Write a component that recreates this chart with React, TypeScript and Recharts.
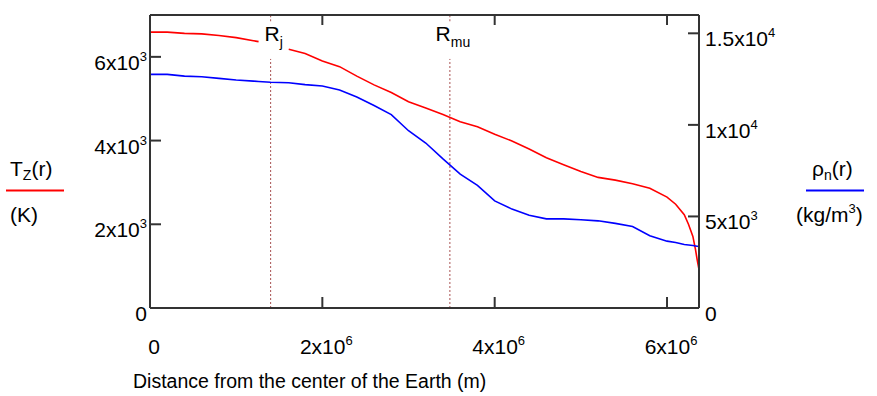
import React from "react";
import { LineChart, Line, XAxis, YAxis, ReferenceLine } from "recharts";

// ---- data ----
const radius = [0, 200000, 400000, 600000, 800000, 1000000, 1200000, 1260000, 1400000, 1610000, 1800000, 2000000, 2200000, 2400000, 2600000, 2800000, 3000000, 3200000, 3400000, 3600000, 3800000, 4000000, 4200000, 4400000, 4600000, 4800000, 5000000, 5200000, 5400000, 5600000, 5800000, 6000000, 6100000, 6200000, 6250000, 6300000, 6330000, 6350000, 6371000];
const temperature = [6590, 6590, 6560, 6550, 6510, 6460, 6385, 6364, null, 6181, 6080, 5900, 5766, 5540, 5330, 5150, 4930, 4780, 4620, 4450, 4330, 4150, 3990, 3800, 3590, 3425, 3260, 3120, 3055, 2970, 2860, 2650, 2480, 2230, 1995, 1709, 1400, 1150, 920];
const density = [12760, 12760, 12660, 12630, 12540, 12450, 12390, 12370, 12330, 12300, 12200, 12120, 11900, 11520, 11060, 10560, 9680, 9010, 8140, 7310, 6700, 5850, 5400, 5060, 4866, 4866, 4820, 4760, 4620, 4450, 3950, 3650, 3580, 3470, 3440, 3410, 3390, 3375, 3360];

const xTicks = [0, 2000000, 4000000, 6000000];
const xTickBase = ["0", "2x10", "4x10", "6x10"];
const xTickExp = ["", "6", "6", "6"];

const leftTicks = [0, 2000, 4000, 6000];
const leftTickBase = ["0", "2x10", "4x10", "6x10"];
const leftTickExp = ["", "3", "3", "3"];

const rightTicks = [0, 5000, 10000, 15000];
const rightTickBase = ["0", "5x10", "1x10", "1.5x10"];
const rightTickExp = ["", "3", "4", "4"];

const markerR = [1400000, 3480000];
const markerName = ["R", "R"];
const markerSub = ["j", "mu"];

const X_MAX = 6371000;
const T_MAX = 7000;
const RHO_MAX = 16000;
const MARK_LOW_TOP = 5950;
const MARK_HIGH_BOTTOM = 6850;

const FONT = "'Liberation Sans', Arial, Helvetica, sans-serif";
const FS = 21;
const SUP = 13;
const AXIS = "#333333";

function SupText(p: { x: number; y: number; anchor: string; base: string; exp: string }) {
  return (
    <text x={p.x} y={p.y} textAnchor={p.anchor as any} fontFamily={FONT} fontSize={FS} fill="#000">
      {p.base}
      {p.exp ? (
        <tspan dy={-9} fontSize={SUP}>
          {p.exp}
        </tspan>
      ) : null}
    </text>
  );
}

const BottomTick = (props: any) => {
  const { x, y, payload } = props;
  const i = xTicks.indexOf(payload.value);
  return (
    <g>
      <line x1={x} y1={y} x2={x} y2={y - 11} stroke={AXIS} strokeWidth={2} />
      <SupText x={x + 4} y={y + 46} anchor="middle" base={xTickBase[i]} exp={xTickExp[i]} />
    </g>
  );
};

const TopTick = (props: any) => {
  const { x, y } = props;
  return <line x1={x} y1={y} x2={x} y2={y + 10} stroke={AXIS} strokeWidth={2} />;
};

const LeftTick = (props: any) => {
  const { x, y, payload } = props;
  const i = leftTicks.indexOf(payload.value);
  return (
    <g>
      <line x1={x} y1={y} x2={x + 11} y2={y} stroke={AXIS} strokeWidth={2} />
      <SupText x={x - 3} y={y + 13} anchor="end" base={leftTickBase[i]} exp={leftTickExp[i]} />
    </g>
  );
};

const RightTick = (props: any) => {
  const { x, y, payload } = props;
  const i = rightTicks.indexOf(payload.value);
  return (
    <g>
      <line x1={x} y1={y} x2={x - 11} y2={y} stroke={AXIS} strokeWidth={2} />
      <SupText x={x + 6} y={y + 13} anchor="start" base={rightTickBase[i]} exp={rightTickExp[i]} />
    </g>
  );
};

const LeftLegend = () => (
  <g fontFamily={FONT} fill="#000">
    <text x={10} y={176} fontSize={FS}>
      T<tspan fontSize={14} dy={4}>Z</tspan>
      <tspan fontSize={FS} dy={-4}>(r)</tspan>
    </text>
    <line x1={6} y1={190.5} x2={64} y2={190.5} stroke="#ff0000" strokeWidth={2} />
    <text x={10} y={222} fontSize={FS}>
      (K)
    </text>
  </g>
);

const RightLegend = () => (
  <g fontFamily={FONT} fill="#000">
    <text x={812} y={176} fontSize={FS}>
      ρ<tspan fontSize={14} dy={4}>n</tspan>
      <tspan fontSize={FS} dy={-4}>(r)</tspan>
    </text>
    <line x1={806} y1={190.5} x2={864} y2={190.5} stroke="#0000ff" strokeWidth={2} />
    <text x={796} y={222} fontSize={FS}>
      (kg/m<tspan fontSize={SUP} dy={-9}>3</tspan>
      <tspan fontSize={FS} dy={9}>)</tspan>
    </text>
  </g>
);

const XTitle = () => (
  <text x={133} y={388} fontFamily={FONT} fontSize={19.5} fill="#000">
    Distance from the center of the Earth (m)
  </text>
);

const markerLabel = (i: number) => (props: any) => {
  const vb = props.viewBox || { x: 0, y: 15 };
  return (
    <text x={vb.x + 3} y={41} textAnchor="middle" fontFamily={FONT} fontSize={21} fill="#000">
      {markerName[i]}
      <tspan fontSize={14} dy={6}>
        {markerSub[i]}
      </tspan>
    </text>
  );
};

export default function App() {
  const data = radius.map((r, i) => ({ r, T: temperature[i], rho: density[i] }));
  return (
    <div style={{ position: "absolute", left: 0, top: 0, width: 877, height: 396, background: "#fff" }}>
      <LineChart width={877} height={396} data={data} margin={{ top: 0, right: 0, bottom: 0, left: 0 }}>
        <XAxis
          xAxisId="top"
          orientation="top"
          dataKey="r"
          type="number"
          domain={[0, X_MAX]}
          ticks={xTicks}
          interval={0}
          height={15}
          tickSize={0}
          tickMargin={0}
          tick={TopTick}
          tickLine={false}
          axisLine={{ stroke: AXIS, strokeWidth: 2 }}
          allowDataOverflow
        />
        <XAxis
          dataKey="r"
          type="number"
          domain={[0, X_MAX]}
          ticks={xTicks}
          interval={0}
          height={88}
          tickSize={0}
          tickMargin={0}
          tick={BottomTick}
          tickLine={false}
          axisLine={{ stroke: AXIS, strokeWidth: 2 }}
          label={<XTitle />}
          allowDataOverflow
        />
        <YAxis
          yAxisId="left"
          orientation="left"
          width={150}
          type="number"
          domain={[0, T_MAX]}
          ticks={leftTicks}
          interval={0}
          tickSize={0}
          tickMargin={0}
          tick={LeftTick}
          tickLine={false}
          axisLine={{ stroke: AXIS, strokeWidth: 2 }}
          label={<LeftLegend />}
          allowDataOverflow
        />
        <YAxis
          yAxisId="right"
          orientation="right"
          width={178}
          type="number"
          domain={[0, RHO_MAX]}
          ticks={rightTicks}
          interval={0}
          tickSize={0}
          tickMargin={0}
          tick={RightTick}
          tickLine={false}
          axisLine={{ stroke: AXIS, strokeWidth: 2 }}
          label={<RightLegend />}
          allowDataOverflow
        />
        {markerR.map((m, i) => (
          <ReferenceLine
            key={"lo" + i}
            yAxisId="left"
            segment={[
              { x: m, y: 0 },
              { x: m, y: MARK_LOW_TOP },
            ]}
            stroke="#a85050"
            strokeWidth={1}
            strokeDasharray="2 2"
          />
        ))}
        {markerR.map((m, i) => (
          <ReferenceLine
            key={"hi" + i}
            yAxisId="left"
            segment={[
              { x: m, y: MARK_HIGH_BOTTOM },
              { x: m, y: T_MAX },
            ]}
            stroke="#a85050"
            strokeWidth={1}
            strokeDasharray="2 2"
            label={markerLabel(i)}
          />
        ))}
        <Line
          yAxisId="left"
          type="linear"
          dataKey="T"
          stroke="#ff0000"
          strokeWidth={1.6}
          dot={false}
          activeDot={false}
          isAnimationActive={false}
        />
        <Line
          yAxisId="right"
          type="linear"
          dataKey="rho"
          stroke="#0000ff"
          strokeWidth={1.6}
          dot={false}
          activeDot={false}
          isAnimationActive={false}
        />
      </LineChart>
    </div>
  );
}
